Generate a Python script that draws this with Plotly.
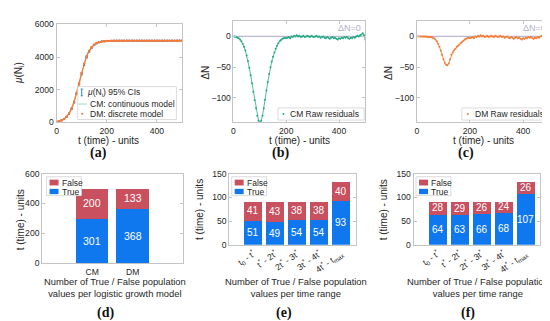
import plotly.graph_objects as go

W, H = 550, 321

# ---------------- data ----------------
t_fit = list(range(0, 501, 10))
cm_model = [50, 83, 136, 223, 361, 573, 886, 1320, 1870, 2494, 3118, 3670, 4106, 4422, 4636,
            4775, 4862, 4916, 4950, 4970, 4982, 4989, 4993, 4996, 4998, 4999, 4999,
            5000, 5000, 5000, 5000, 5000, 5000, 5000, 5000, 5000, 5000, 5000, 5000, 5000,
            5000, 5000, 5000, 5000, 5000, 5000, 5000, 5000, 5000, 5000, 5000]
mu_data = [50, 82, 133, 215, 344, 542, 834, 1241, 1766, 2364, 2978, 3545, 4009, 4350, 4587,
           4743, 4843, 4905, 4944, 4967, 4979, 4988, 4993, 4997, 5000, 5000, 4999, 4999,
           5001, 4999, 5000, 5000, 4999, 4998, 5000, 4997, 4998, 4998, 4997, 4996, 4997,
           4998, 4999, 4999, 4996, 4997, 4998, 5001, 5002, 5005, 4995]
ci_half = [3, 5, 8, 12, 18, 25, 33, 42, 50, 56, 58, 55, 48, 40, 32, 26, 21, 18, 16, 15,
           14, 14, 14, 14, 14, 14, 14, 14, 14, 14, 14, 14, 14, 14, 14, 14, 14, 14, 14, 14,
           14, 14, 14, 14, 14, 14, 14, 14, 14, 14, 14]
dm_model = [50, 82, 133, 215, 344, 543, 836, 1246, 1778, 2387, 3015, 3591, 4053, 4380, 4610,
            4760, 4856, 4914, 4949, 4969, 4982, 4989, 4993, 4996, 4998, 4999, 4999,
            5000, 5000, 5000, 5000, 5000, 5000, 5000, 5000, 5000, 5000, 5000, 5000, 5000,
            5000, 5000, 5000, 5000, 5000, 5000, 5000, 5000, 5000, 5000, 5000]

t_res = list(range(0, 501, 5))
res_cm_head = [0, 0, -1, -2, -3, -5, -8, -12, -17, -23, -31, -40, -51, -63, -76, -90, -104,
               -117, -129, -137, -140, -137, -129, -117, -103, -88, -74, -61, -50, -41, -33,
               -26, -20, -15, -11, -8, -6, -4, -3, -2, -3]
res_dm_head = [0, 0, 0, 0, 0, 0, 0, 0, -1, -1, -1, -1, -2, -3, -5, -8, -12, -17, -23, -30,
               -37, -43, -46, -47, -44, -37, -30, -26, -23, -20, -17, -15, -13, -11, -9, -7,
               -5, -4, -3, -2, -3]
res_tail = [-2, -1, -3, 0, -1, 1, 0, 2, 0, 1, -1, 0, 1, -1, 0, 1, 0, -1, 1, 0,
            -1, 0, 1, -1, 0, -2, -1, 0, -2, -3, -1, -2, -4, -2, -1, -3, -2, -4, -5, -3,
            -4, -2, -3, -1, -2, -1, -3, -4, -2, -3, -1, -2, 0, 1, 0, 2, 3, 5, 2, -5]
res_cm = res_cm_head + res_tail
res_dm = res_dm_head + res_tail

d_cats = ["CM", "DM"]
d_true = [301, 368]
d_false = [200, 133]

range_cats = ["t<sub>0</sub> - t<sup>*</sup>", "t<sup>*</sup> - 2t<sup>*</sup>",
              "2t<sup>*</sup> - 3t<sup>*</sup>", "3t<sup>*</sup> - 4t<sup>*</sup>",
              "4t<sup>*</sup> - t<sub>max</sub>"]
e_true = [51, 49, 54, 54, 93]
e_false = [41, 43, 38, 38, 40]
f_true = [64, 63, 66, 68, 107]
f_false = [28, 29, 26, 24, 26]

# ---------------- style ----------------
C_DATA = "#2a7fd4"
C_CM = "#25a985"
C_CM_PALE = "rgba(37,169,133,0.45)"
C_DM = "#f87a34"
C_TRUE = "#1078ee"
C_FALSE = "#c9505e"
AX = "#c4c4c4"
TXT = "#262626"
FONT = "Liberation Sans, Arial, sans-serif"
SERIF = "Liberation Serif, Times New Roman, serif"
TICK_FS = 8.6
TITLE_FS = 10
LEG_FS = 8.5


def px(x):
    return x / W


def py(y):
    return 1 - y / H


def xdom(a, b):
    return [px(a), px(b)]


def ydom(top, bottom):
    return [py(bottom), py(top)]


fig = go.Figure()

# (a)
fig.add_trace(go.Scatter(x=t_fit, y=cm_model, mode="lines", xaxis="x", yaxis="y",
                         line=dict(color=C_CM_PALE, width=1.2), showlegend=False))
fig.add_trace(go.Scatter(x=t_fit, y=mu_data, mode="markers", xaxis="x", yaxis="y",
                         marker=dict(size=2, color=C_DATA),
                         error_y=dict(type="data", array=ci_half, thickness=1.4, width=1,
                                      color=C_DATA), showlegend=False))
fig.add_trace(go.Scatter(x=t_fit, y=dm_model, mode="lines+markers", xaxis="x", yaxis="y",
                         line=dict(color=C_DM, width=1.3),
                         marker=dict(size=2.4, color=C_DM), showlegend=False))
# (b), (c)
fig.add_trace(go.Scatter(x=t_res, y=res_cm, mode="lines+markers", xaxis="x2", yaxis="y2",
                         line=dict(color=C_CM, width=0.8),
                         marker=dict(size=2, color=C_CM), showlegend=False))
fig.add_trace(go.Scatter(x=t_res, y=res_dm, mode="lines+markers", xaxis="x3", yaxis="y3",
                         line=dict(color=C_DM, width=0.9),
                         marker=dict(size=2, color=C_DM), showlegend=False))
# (d), (e), (f)
for cats, tr, fa, ax in [(d_cats, d_true, d_false, "4"),
                         (range_cats, e_true, e_false, "5"),
                         (range_cats, f_true, f_false, "6")]:
    fig.add_trace(go.Bar(x=cats, y=tr, xaxis="x" + ax, yaxis="y" + ax, width=0.8,
                         marker=dict(color=C_TRUE, line=dict(width=0)), showlegend=False))
    fig.add_trace(go.Bar(x=cats, y=fa, xaxis="x" + ax, yaxis="y" + ax, width=0.8,
                         marker=dict(color=C_FALSE, line=dict(width=0)), showlegend=False))

annotations = []
shapes = []

# bar value labels
for cats, tr, fa, ax, fs in [(d_cats, d_true, d_false, "4", 10.5),
                             (range_cats, e_true, e_false, "5", 10),
                             (range_cats, f_true, f_false, "6", 10)]:
    for c, a, b in zip(cats, tr, fa):
        annotations.append(dict(x=c, y=a / 2, xref="x" + ax, yref="y" + ax, text=str(a),
                                showarrow=False, font=dict(color="white", size=fs, family=FONT)))
        annotations.append(dict(x=c, y=a + b / 2, xref="x" + ax, yref="y" + ax, text=str(b),
                                showarrow=False, font=dict(color="white", size=fs, family=FONT)))

axis_common = dict(showline=True, linecolor=AX, linewidth=1, mirror="ticks", ticks="inside",
                   ticklen=3, tickcolor=AX, showgrid=False, zeroline=False,
                   tickfont=dict(size=TICK_FS, color=TXT, family=FONT))

layout = dict(width=W, height=H, margin=dict(l=0, r=0, t=0, b=0), paper_bgcolor="white",
              plot_bgcolor="white", barmode="stack", bargap=0, showlegend=False,
              font=dict(family=FONT, color=TXT))

# axes a,b,c
layout["xaxis"] = dict(axis_common, domain=xdom(46.7, 172.7), range=[0, 500], anchor="y",
                       tickvals=[0, 200, 400])
layout["yaxis"] = dict(axis_common, domain=ydom(11.7, 113), range=[0, 6000], anchor="x",
                       tickvals=[0, 2000, 4000, 6000])
layout["xaxis2"] = dict(axis_common, domain=xdom(224.3, 356.7), range=[0, 500], anchor="y2",
                        tickvals=[0, 200, 400])
layout["yaxis2"] = dict(axis_common, domain=ydom(8.3, 113), range=[-140, 25], anchor="x2",
                        tickvals=[-100, -50, 0])
layout["xaxis3"] = dict(axis_common, domain=xdom(408.3, 541.7), range=[0, 500], anchor="y3",
                        tickvals=[0, 200, 400])
layout["yaxis3"] = dict(axis_common, domain=ydom(8.3, 113), range=[-140, 25], anchor="x3",
                        tickvals=[-100, -50, 0])
# axes d,e,f
layout["xaxis4"] = dict(axis_common, domain=xdom(32.3, 173.3), range=[-1.24, 2.24], anchor="y4",
                        type="category", ticks="")
layout["yaxis4"] = dict(axis_common, domain=ydom(165.7, 258.3), range=[0, 600], anchor="x4",
                        tickvals=[0, 200, 400, 600])
layout["xaxis5"] = dict(axis_common, domain=xdom(220, 347), range=[-1.09, 4.66], anchor="y5",
                        type="category", tickangle=-35, ticks="")
layout["yaxis5"] = dict(axis_common, domain=ydom(165.7, 239.3), range=[0, 150], anchor="x5",
                        tickvals=[0, 50, 100, 150])
layout["xaxis6"] = dict(axis_common, domain=xdom(405, 532), range=[-1.09, 4.66], anchor="y6",
                        type="category", tickangle=-35, ticks="")
layout["yaxis6"] = dict(axis_common, domain=ydom(165.7, 239.3), range=[0, 150], anchor="x6",
                        tickvals=[0, 50, 100, 150])

# zero reference lines in (b), (c)
for ax in ["2", "3"]:
    shapes.append(dict(type="line", xref="x%s domain" % ax, yref="y" + ax, x0=0, x1=1, y0=0, y1=0,
                       line=dict(color="#b9b9cf", width=1.2), layer="below"))
    annotations.append(dict(xref="x%s domain" % ax, yref="y" + ax, x=1, y=0, xanchor="right",
                            yanchor="bottom", xshift=-2, yshift=1, text="ΔN=0", showarrow=False,
                            font=dict(size=9, color="#b0b0c8", family=FONT)))


def rect(x0, y0, x1, y1, fill, line=None):
    shapes.append(dict(type="rect", xref="paper", yref="paper", x0=px(x0), x1=px(x1),
                       y0=py(y1), y1=py(y0), fillcolor=fill, layer="above",
                       line=dict(color=line or fill, width=0.8 if line else 0)))


def seg(x0, y0, x1, y1, color, width=1):
    shapes.append(dict(type="line", xref="paper", yref="paper", x0=px(x0), x1=px(x1),
                       y0=py(y0), y1=py(y1), layer="above", line=dict(color=color, width=width)))


def dot(x, y, r, color):
    shapes.append(dict(type="circle", xref="paper", yref="paper", x0=px(x - r), x1=px(x + r),
                       y0=py(y + r), y1=py(y - r), fillcolor=color, layer="above",
                       line=dict(width=0)))


def label(x, y, text, size=LEG_FS, color=TXT, anchor="left", family=FONT, angle=0):
    annotations.append(dict(xref="paper", yref="paper", x=px(x), y=py(y), text=text,
                            showarrow=False, xanchor=anchor, yanchor="middle", textangle=angle,
                            font=dict(size=size, color=color, family=family)))


# axis titles
label(9, 62, "<i>μ</i>(N<sub>i</sub>)", size=TITLE_FS, anchor="center", angle=-90)
label(99, 131.5, "t (time) - units", size=TITLE_FS, anchor="center")
label(196.5, 61.7, "ΔN", size=TITLE_FS, anchor="center", angle=-90)
label(290.8, 131.5, "t (time) - units", size=TITLE_FS, anchor="center")
label(380.5, 61.7, "ΔN", size=TITLE_FS, anchor="center", angle=-90)
label(475, 131.5, "t (time) - units", size=TITLE_FS, anchor="center")
label(10, 213, "t (time) - units", size=TITLE_FS, anchor="center", angle=-90)
label(105.5, 283.3, "Number of True / False population<br>values per logistic growth model",
      size=9.4, anchor="center")
label(190, 203, "t (time) - units", size=TITLE_FS, anchor="center", angle=-90)
label(287.5, 283.3, "Number of True / False population<br>values per time range",
      size=9.4, anchor="center")
label(375, 203, "t (time) - units", size=TITLE_FS, anchor="center", angle=-90)
label(470, 283.3, "Number of True / False population<br>values per time range",
      size=9.4, anchor="center")

# legend (a)
rect(68, 76, 167, 110, "white", "#d2d2d2")
seg(72, 78.5, 72, 85.5, C_DATA, 1)
seg(71, 78.5, 73, 78.5, C_DATA, 1)
seg(71, 85.5, 73, 85.5, C_DATA, 1)
label(75.5, 82, "<i>μ</i>(N<sub>i</sub>) 95% CIs")
seg(68.5, 94, 77, 94, "#a8dcd0", 1.2)
label(78.5, 94, "CM: continuous model")
dot(72.5, 104, 1.1, C_DM)
label(78.5, 104, "DM: discrete model")

# legends (b), (c)
rect(269, 98, 355.5, 110.5, "white", "#d2d2d2")
dot(274.5, 104.2, 1.0, C_CM)
label(279.5, 104.2, "CM Raw residuals")
rect(453.5, 98, 540.5, 110.5, "white", "#d2d2d2")
dot(459.5, 104.2, 1.0, C_DM)
label(464.5, 104.2, "DM Raw residuals")

# legends (d), (e), (f)
for left in [36.7, 222.5, 407.5]:
    rect(left, 169, left + 35, 188.5, "white", "#d2d2d2")
    rect(left + 3, 172, left + 12, 178, C_FALSE)
    rect(left + 3, 181.5, left + 12, 187, C_TRUE)
    label(left + 13.5, 175, "False")
    label(left + 13.5, 184.3, "True")

# captions
for x, y, t in [(89, 144, "(a)"), (271.7, 144, "(b)"), (457.5, 144, "(c)"),
                (95.5, 310, "(d)"), (275.5, 310, "(e)"), (460, 310, "(f)")]:
    annotations.append(dict(xref="paper", yref="paper", x=px(x), y=py(y), text="<b>%s</b>" % t,
                            showarrow=False, xanchor="center", yanchor="middle",
                            font=dict(size=14, color="#111111", family=SERIF)))

layout["annotations"] = annotations
layout["shapes"] = shapes
fig.update_layout(**layout)
fig.write_html("out.html")
